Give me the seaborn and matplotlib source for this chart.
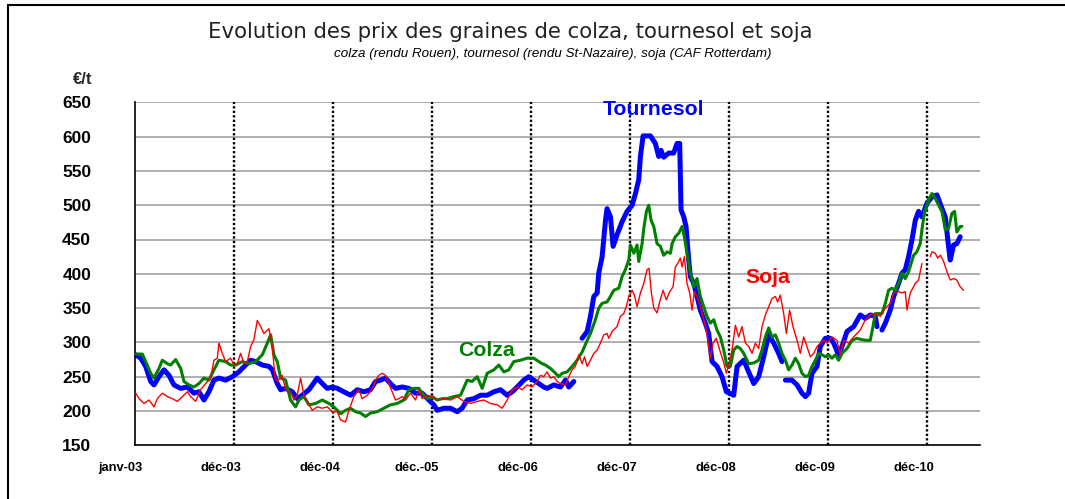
import numpy as np
import pandas as pd
import matplotlib
matplotlib.use("Agg")
import matplotlib.pyplot as plt
import matplotlib.transforms as mtransforms
from matplotlib.lines import Line2D
import seaborn as sns

NaN = np.nan

# ---- data (time in years since janv-03, price in EUR/t) ----
x_tick_pos = [0, 1, 2, 3, 4, 5, 6, 7, 8]
x_tick_labels = ["janv-03", "déc-03", "déc-04", "déc.-05", "déc-06",
                 "déc-07", "déc-08", "déc-09", "déc-10"]
y_ticks = [150, 200, 250, 300, 350, 400, 450, 500, 550, 600, 650]

tournesol_t = [0.007, 0.058, 0.108, 0.159, 0.192, 0.242, 0.293, 0.343, 0.394, 0.462, 0.529, 0.596, 0.646, 0.697, 0.747, 0.798, 0.848, 0.916, 0.984, 1.05,
               1.118, 1.169, 1.219, 1.287, 1.354, 1.388, 1.438, 1.472, 1.522, 1.59, 1.64, 1.69, 1.758, 1.842, 1.893, 1.943, 1.994, 2.044, 2.111, 2.178,
               2.246, 2.313, 2.380, 2.431, 2.481, 2.532, 2.582, 2.633, 2.700, 2.768, 2.835, 2.902, 2.970, 3.020, 3.054, 3.121, 3.189, 3.256, 3.306, 3.357,
               3.424, 3.492, 3.559, 3.627, 3.694, 3.761, 3.812, 3.862, 3.929, 3.980, 4.030, 4.081, 4.131, 4.165, 4.233, 4.300, 4.351, 4.384, 4.435, 4.48,
               4.519, 4.570, 4.603, 4.637, 4.671, 4.687, 4.721, 4.755, 4.771, 4.805, 4.832, 4.872, 4.923, 4.973, 5.024, 5.058, 5.091, 5.108, 5.135, 5.209,
               5.259, 5.293, 5.316, 5.343, 5.394, 5.444, 5.478, 5.505, 5.519, 5.546, 5.569, 5.596, 5.613, 5.646, 5.680, 5.714, 5.764, 5.798, 5.832, 5.882,
               5.933, 5.977, 6.051, 6.085, 6.152, 6.202, 6.253, 6.303, 6.354, 6.404, 6.455, 6.505, 6.539, 6.556, 6.573, 6.640, 6.691, 6.741, 6.775, 6.808,
               6.842, 6.893, 6.926, 6.977, 7.027, 7.061, 7.111, 7.145, 7.196, 7.263, 7.330, 7.381, 7.431, 7.482, 7.499, 7.52, 7.549, 7.583, 7.633, 7.667,
               7.717, 7.752, 7.785, 7.818, 7.852, 7.886, 7.919, 7.953, 8.004, 8.055, 8.105, 8.156, 8.189, 8.222, 8.239, 8.273, 8.306, 8.340]
tournesol_prix = [282, 277, 265, 243, 238, 250, 260, 252, 238, 233, 235, 226, 228, 216, 228, 245, 248, 245, 250, 257,
                  267, 274, 272, 267, 265, 260, 240, 231, 233, 228, 218, 223, 231, 248, 240, 233, 235, 233, 228, 223,
                  231, 228, 231, 243, 245, 248, 240, 233, 235, 233, 226, 226, 216, 209, 201, 204, 204, 199, 204, 216,
                  218, 223, 223, 228, 231, 223, 228, 235, 245, 250, 245, 240, 235, 233, 238, 235, 245, 235, 243, NaN,
                  306, 316, 338, 367, 372, 401, 425, 478, 495, 483, 440, 457, 476, 491, 500, 517, 537, 571, 601, 601,
                  590, 571, 580, 570, 576, 576, 590, 590, 493, 483, 469, 420, 396, 386, 367, 347, 328, 313, 272, 265,
                  250, 228, 223, 265, 274, 257, 240, 250, 279, 311, 299, 284, 272, NaN, 245, 245, 238, 226, 221, 226,
                  255, 265, 294, 306, 306, 299, 282, 294, 316, 323, 340, 335, 340, 338, 323, NaN, 318, 328, 347, 367,
                  386, 401, 406, 425, 449, 478, 491, 483, 503, 512, 515, 495, 483, 440, 420, 442, 444, 454]

colza_t = [0.007, 0.074, 0.108, 0.159, 0.192, 0.242, 0.276, 0.327, 0.360, 0.411, 0.462, 0.495, 0.546, 0.596, 0.646, 0.697, 0.747, 0.798, 0.848, 0.916,
           0.966, 1.017, 1.084, 1.152, 1.219, 1.287, 1.337, 1.371, 1.404, 1.438, 1.472, 1.522, 1.572, 1.623, 1.657, 1.707, 1.758, 1.825, 1.893, 1.960,
           2.010, 2.078, 2.128, 2.178, 2.229, 2.279, 2.330, 2.380, 2.448, 2.515, 2.582, 2.650, 2.717, 2.768, 2.818, 2.869, 2.902, 2.953, 3.003, 3.054,
           3.104, 3.155, 3.222, 3.290, 3.357, 3.407, 3.458, 3.509, 3.559, 3.627, 3.677, 3.728, 3.778, 3.828, 3.896, 3.963, 4.030, 4.081, 4.115, 4.149,
           4.199, 4.250, 4.283, 4.317, 4.367, 4.418, 4.468, 4.519, 4.570, 4.603, 4.653, 4.687, 4.721, 4.771, 4.805, 4.839, 4.889, 4.923, 4.956, 4.990,
           5.007, 5.041, 5.074, 5.091, 5.125, 5.142, 5.169, 5.192, 5.216, 5.243, 5.276, 5.310, 5.343, 5.377, 5.411, 5.428, 5.461, 5.495, 5.529, 5.552,
           5.579, 5.613, 5.646, 5.680, 5.714, 5.748, 5.781, 5.815, 5.849, 5.882, 5.916, 5.950, 5.983, 6.017, 6.051, 6.085, 6.118, 6.152, 6.202, 6.253,
           6.303, 6.337, 6.371, 6.404, 6.438, 6.472, 6.505, 6.539, 6.573, 6.606, 6.640, 6.674, 6.707, 6.741, 6.775, 6.808, 6.842, 6.876, 6.909, 6.943,
           6.977, 7.010, 7.044, 7.078, 7.111, 7.145, 7.196, 7.246, 7.296, 7.347, 7.397, 7.431, 7.458, 7.482, 7.549, 7.583, 7.616, 7.650, 7.684, 7.717,
           7.752, 7.785, 7.818, 7.869, 7.902, 7.936, 7.953, 7.977, 8.020, 8.055, 8.088, 8.122, 8.156, 8.189, 8.222, 8.256, 8.283, 8.306, 8.340, 8.357]
colza_prix = [283, 283, 272, 255, 248, 262, 274, 269, 267, 275, 262, 243, 238, 235, 240, 248, 245, 260, 274, 272,
              267, 267, 272, 269, 272, 282, 299, 311, 282, 272, 248, 245, 216, 206, 216, 221, 209, 211, 216, 211,
              206, 196, 201, 204, 199, 197, 192, 197, 199, 204, 209, 211, 216, 231, 233, 233, 226, 218, 221, 216,
              218, 218, 221, 223, 245, 243, 250, 233, 255, 260, 267, 257, 260, 272, 274, 277, 277, 272, 269, 267,
              262, 255, 250, 255, 257, 265, 274, 286, 303, 313, 333, 350, 357, 359, 367, 376, 379, 396, 406, 420,
              442, 430, 442, 418, 444, 466, 491, 500, 478, 469, 444, 440, 427, 432, 430, 444, 454, 459, 469, 454,
              430, 401, 381, 393, 367, 352, 338, 328, 333, 318, 308, 289, 265, 265, 289, 294, 291, 284, 269, 270,
              274, 289, 308, 321, 308, 311, 299, 284, 274, 260, 267, 277, 269, 255, 250, 252, 265, 274, 284, 282,
              279, 282, 277, 282, 274, 284, 291, 303, 306, 304, 303, 303, 323, 342, 342, 357, 376, 379, 376, 386,
              401, 393, 403, 427, 432, 444, 464, 488, 508, 517, 510, 500, 491, 464, 466, 488, 491, 461, 469, 469]

soja_t = [0.007, 0.041, 0.091, 0.142, 0.192, 0.226, 0.276, 0.327, 0.377, 0.428, 0.478, 0.529, 0.563, 0.613, 0.663, 0.714, 0.764, 0.798, 0.832, 0.848,
          0.882, 0.916, 0.966, 1.0, 1.034, 1.067, 1.101, 1.135, 1.169, 1.202, 1.236, 1.270, 1.303, 1.354, 1.388, 1.414, 1.438, 1.488, 1.522, 1.572,
          1.606, 1.640, 1.673, 1.707, 1.741, 1.791, 1.842, 1.893, 1.943, 1.994, 2.044, 2.078, 2.128, 2.162, 2.212, 2.263, 2.296, 2.347, 2.397, 2.431,
          2.465, 2.498, 2.532, 2.566, 2.599, 2.633, 2.667, 2.700, 2.734, 2.784, 2.835, 2.869, 2.902, 2.953, 3.003, 3.054, 3.121, 3.189, 3.256, 3.323,
          3.391, 3.458, 3.525, 3.593, 3.660, 3.711, 3.761, 3.812, 3.862, 3.913, 3.963, 4.014, 4.064, 4.098, 4.131, 4.165, 4.199, 4.233, 4.266, 4.300,
          4.351, 4.384, 4.418, 4.451, 4.485, 4.519, 4.543, 4.570, 4.603, 4.637, 4.671, 4.704, 4.738, 4.771, 4.788, 4.822, 4.872, 4.906, 4.939, 4.966,
          4.990, 5.024, 5.047, 5.074, 5.108, 5.142, 5.175, 5.195, 5.219, 5.243, 5.276, 5.303, 5.337, 5.370, 5.404, 5.438, 5.461, 5.485, 5.512, 5.529,
          5.552, 5.579, 5.606, 5.630, 5.653, 5.680, 5.714, 5.748, 5.781, 5.815, 5.842, 5.875, 5.909, 5.943, 5.977, 6.000, 6.034, 6.068, 6.101, 6.135,
          6.169, 6.202, 6.236, 6.270, 6.303, 6.337, 6.371, 6.404, 6.438, 6.472, 6.495, 6.522, 6.556, 6.583, 6.616, 6.650, 6.691, 6.724, 6.758, 6.791,
          6.825, 6.859, 6.893, 6.926, 6.960, 6.994, 7.044, 7.094, 7.128, 7.162, 7.212, 7.263, 7.330, 7.381, 7.431, 7.482, 7.532, 7.583, 7.633, 7.667,
          7.717, 7.752, 7.785, 7.802, 7.835, 7.886, 7.919, 7.953, 7.99, 8.037, 8.055, 8.088, 8.112, 8.139, 8.172, 8.206, 8.239, 8.273, 8.306, 8.340,
          8.374]
soja_prix = [226, 218, 211, 216, 206, 218, 226, 221, 218, 214, 221, 228, 221, 214, 231, 240, 248, 274, 277, 299,
             284, 272, 277, 267, 269, 284, 269, 272, 294, 304, 332, 323, 313, 320, 294, 250, 243, 252, 231, 228,
             216, 223, 248, 223, 214, 201, 206, 204, 206, 199, 199, 187, 184, 201, 221, 231, 218, 223, 231, 245,
             252, 255, 252, 240, 228, 216, 218, 221, 216, 226, 216, 231, 218, 223, 221, 216, 218, 216, 221, 214,
             211, 214, 216, 211, 209, 204, 216, 231, 235, 231, 238, 235, 243, 252, 250, 257, 248, 250, 243, 240,
             238, 250, 260, 265, 282, 269, 279, 265, 274, 284, 289, 299, 311, 313, 306, 316, 323, 338, 342, 352,
             367, 376, 369, 352, 372, 386, 406, 408, 372, 350, 343, 359, 376, 362, 374, 381, 410, 415, 423, 410,
             425, 386, 372, 347, 374, 367, 352, 333, 313, 277, 299, 306, 289, 274, 255, 267, 289, 325, 308, 323,
             299, 294, 284, 299, 291, 323, 340, 352, 364, 367, 359, 369, 342, 313, 347, 323, 303, 284, 308, 294,
             279, 284, 294, 299, 303, 299, 308, 303, 282, 303, 299, 308, 318, 333, 340, 342, 338, 350, 357, 372,
             374, 372, 374, 347, 372, 386, 391, 415, NaN, 425, 432, 430, 423, 427, 418, 403, 391, 393, 391, 381,
             376]

series = [
    ("colza", colza_t, colza_prix, "#008000", 2.2, 3),
    ("tournesol", tournesol_t, tournesol_prix, "#0000FF", 3.6, 2),
    ("soja", soja_t, soja_prix, "#FF0000", 1.0, 4),
]

# ---- figure ----
sns.set_style("white")
plt.rcParams["font.family"] = ["Liberation Sans", "DejaVu Sans"]

W, H = 1065, 499
fig = plt.figure(figsize=(W / 100, H / 100), dpi=100)
ax = fig.add_axes([135 / W, 53.7 / H, (980 - 135) / W, (445.3 - 102.3) / H])

# horizontal grid
for yv in y_ticks[1:]:
    ax.axhline(yv, color="#999999", lw=1.1, zorder=0)
# dotted year separators
for xv in x_tick_pos[1:]:
    ax.axvline(xv, color="black", lw=1.7, linestyle=(0, (1.0, 0.9)), zorder=1)

for name, t, p, col, lw, z in series:
    df = pd.DataFrame({"t": t, "prix": p})
    df["seg"] = df["prix"].isna().cumsum()
    df = df.dropna()
    sns.lineplot(data=df, x="t", y="prix", units="seg", estimator=None,
                 color=col, lw=lw, ax=ax, legend=False, zorder=z, sort=False)

ax.set_xlim(0, 8.54)
ax.set_ylim(150, 650)
ax.set_xlabel("")
ax.set_ylabel("")

ax.set_yticks(y_ticks)
ax.set_yticklabels([str(v) for v in y_ticks], fontsize=12.5, fontweight="bold")
ax.tick_params(axis="y", direction="out", length=7.5, width=1.0, pad=24, colors="black")

ax.set_xticks(x_tick_pos)
ax.set_xticks([v + 0.5 for v in x_tick_pos], minor=True)
ax.set_xticklabels(x_tick_labels, fontsize=9.3, fontweight="bold")
ax.tick_params(axis="x", which="both", direction="out", length=4, width=1.0, pad=8, colors="black")
offset = mtransforms.ScaledTranslation(7.5 / 100, 0, fig.dpi_scale_trans)
for lab in ax.get_xticklabels():
    lab.set_horizontalalignment("right")
    lab.set_transform(lab.get_transform() + offset)

for side in ["top", "right"]:
    ax.spines[side].set_visible(False)
for side in ["left", "bottom"]:
    ax.spines[side].set_color("black")
    ax.spines[side].set_linewidth(1.2)
ax.set_facecolor("white")

# series labels
ax.text(4.73, 639, "Tournesol", color="#0000FF", fontsize=15.3, fontweight="bold", va="center", ha="left")
ax.text(3.27, 287.5, "Colza", color="#008000", fontsize=15.3, fontweight="bold", va="center", ha="left")
ax.text(6.17, 394, "Soja", color="#FF0000", fontsize=15.3, fontweight="bold", va="center", ha="left")

# titles and unit
fig.text(510 / W, 1 - 32 / H, "Evolution des prix des graines de colza, tournesol et soja",
         family=["DejaVu Sans"], fontsize=15.3, ha="center", va="center", color="#222222")
fig.text(553 / W, 1 - 54 / H, "colza (rendu Rouen), tournesol (rendu St-Nazaire), soja (CAF Rotterdam)",
         family=["Liberation Sans"], fontsize=9.6, style="italic",
         ha="center", va="center", color="black")
fig.text(92 / W, 1 - 80 / H, "€/t", fontsize=12, fontweight="bold", ha="right", va="center")

# outer frame (top and left only)
fig.add_artist(Line2D([7.5 / W, 1], [1 - 5 / H, 1 - 5 / H], transform=fig.transFigure, color="black", lw=1.5))
fig.add_artist(Line2D([7.5 / W, 7.5 / W], [0, 1 - 5 / H], transform=fig.transFigure, color="black", lw=1.5))

fig.savefig("out.png", dpi=100, facecolor="white")
